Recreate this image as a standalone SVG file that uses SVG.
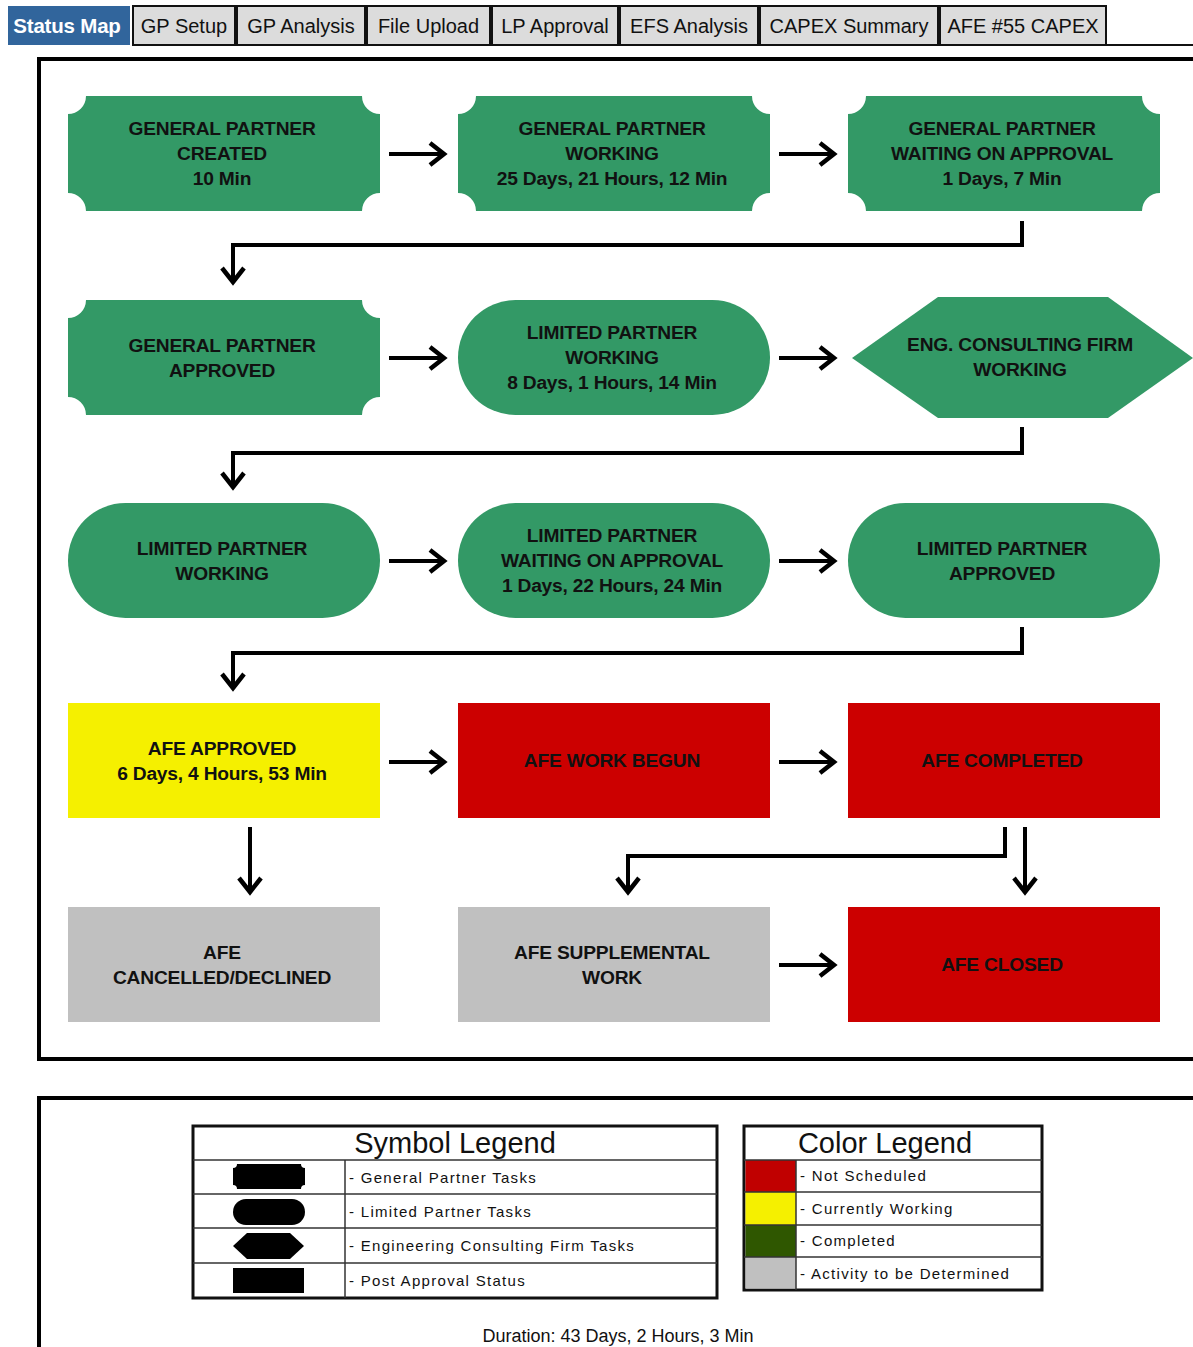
<svg xmlns="http://www.w3.org/2000/svg" width="1193" height="1347" viewBox="0 0 1193 1347">
<style>
text{font-family:"Liberation Sans",Arial,sans-serif}
.tab{fill:#DCDCDC;stroke:#111;stroke-width:2}
.tabt{font-size:20px;fill:#111;text-anchor:middle}
.g{fill:#339966}
.y{fill:#F5F000}
.r{fill:#CC0000}
.gr{fill:#C0C0C0}
.n{font-size:19.2px;font-weight:bold;fill:#111;text-anchor:middle;letter-spacing:-0.2px}
.c{fill:none;stroke:#000;stroke-width:4;marker-end:url(#ah)}
.frame{fill:none;stroke:#000;stroke-width:4}
.lt{fill:#fff;stroke:#111;stroke-width:3}
.ll{stroke:#333;stroke-width:1.5}
.lh{font-size:29px;fill:#111;text-anchor:middle}
.lx{font-size:15px;fill:#111;letter-spacing:1.3px}
</style>
<defs>
<marker id="ah" markerUnits="userSpaceOnUse" markerWidth="40" markerHeight="40" viewBox="-20 -20 40 40" refX="0" refY="0" orient="auto">
<path d="M-14,-11 L0,0 L-14,11" fill="none" stroke="#000" stroke-width="4.5"/>
</marker>
</defs>
<rect width="1193" height="1347" fill="#fff"/>
<g id="tabs">
<rect x="8" y="6" width="122" height="39" fill="#31659C"/>
<text x="67" y="33" style="font-size:20.5px;font-weight:bold;fill:#fff;text-anchor:middle;letter-spacing:-0.2px">Status Map</text>
<rect class="tab" x="133" y="6" width="102" height="39"/><text class="tabt" x="184" y="33">GP Setup</text>
<rect class="tab" x="237" y="6" width="128" height="39"/><text class="tabt" x="301" y="33">GP Analysis</text>
<rect class="tab" x="367" y="6" width="123" height="39"/><text class="tabt" x="428.5" y="33">File Upload</text>
<rect class="tab" x="492" y="6" width="126" height="39"/><text class="tabt" x="555" y="33">LP Approval</text>
<rect class="tab" x="620" y="6" width="138" height="39"/><text class="tabt" x="689" y="33">EFS Analysis</text>
<rect class="tab" x="760" y="6" width="178" height="39"/><text class="tabt" x="849" y="33">CAPEX Summary</text>
<rect class="tab" x="940" y="6" width="166" height="39"/><text class="tabt" x="1023" y="33">AFE #55 CAPEX</text>
<line x1="1106" y1="45" x2="1193" y2="45" stroke="#111" stroke-width="2"/>
</g>
<rect class="frame" x="39" y="59" width="1170" height="1000"/>
<rect class="frame" x="39" y="1098" width="1170" height="300"/>
<g id="n1">
<path class="g" d="M86,96 H362 A18,18 0 0 0 380,114 V193 A18,18 0 0 0 362,211 H86 A18,18 0 0 0 68,193 V114 A18,18 0 0 0 86,96 Z"/>
<text class="n" x="222" y="135">GENERAL PARTNER</text><text class="n" x="222" y="160">CREATED</text><text class="n" x="222" y="185">10 Min</text>
</g>
<g id="n2">
<path class="g" d="M476,96 H752 A18,18 0 0 0 770,114 V193 A18,18 0 0 0 752,211 H476 A18,18 0 0 0 458,193 V114 A18,18 0 0 0 476,96 Z"/>
<text class="n" x="612" y="135">GENERAL PARTNER</text><text class="n" x="612" y="160">WORKING</text><text class="n" x="612" y="185">25 Days, 21 Hours, 12 Min</text>
</g>
<g id="n3">
<path class="g" d="M866,96 H1142 A18,18 0 0 0 1160,114 V193 A18,18 0 0 0 1142,211 H866 A18,18 0 0 0 848,193 V114 A18,18 0 0 0 866,96 Z"/>
<text class="n" x="1002" y="135">GENERAL PARTNER</text><text class="n" x="1002" y="160">WAITING ON APPROVAL</text><text class="n" x="1002" y="185">1 Days, 7 Min</text>
</g>
<g id="n4">
<path class="g" d="M86,300 H362 A18,18 0 0 0 380,318 V397 A18,18 0 0 0 362,415 H86 A18,18 0 0 0 68,397 V318 A18,18 0 0 0 86,300 Z"/>
<text class="n" x="222" y="351.5">GENERAL PARTNER</text><text class="n" x="222" y="376.5">APPROVED</text>
</g>
<g id="n5">
<rect class="g" x="458" y="300" width="312" height="115" rx="57.5"/>
<text class="n" x="612" y="339">LIMITED PARTNER</text><text class="n" x="612" y="364">WORKING</text><text class="n" x="612" y="389">8 Days, 1 Hours, 14 Min</text>
</g>
<g id="n6">
<polygon class="g" points="852,358 938,297 1108,297 1193,358 1108,418 938,418"/>
<text class="n" x="1020" y="351">ENG. CONSULTING FIRM</text><text class="n" x="1020" y="376">WORKING</text>
</g>
<g id="n7">
<rect class="g" x="68" y="503" width="312" height="115" rx="57.5"/>
<text class="n" x="222" y="554.5">LIMITED PARTNER</text><text class="n" x="222" y="579.5">WORKING</text>
</g>
<g id="n8">
<rect class="g" x="458" y="503" width="312" height="115" rx="57.5"/>
<text class="n" x="612" y="542">LIMITED PARTNER</text><text class="n" x="612" y="567">WAITING ON APPROVAL</text><text class="n" x="612" y="592">1 Days, 22 Hours, 24 Min</text>
</g>
<g id="n9">
<rect class="g" x="848" y="503" width="312" height="115" rx="57.5"/>
<text class="n" x="1002" y="554.5">LIMITED PARTNER</text><text class="n" x="1002" y="579.5">APPROVED</text>
</g>
<g id="n10">
<rect class="y" x="68" y="703" width="312" height="115"/>
<text class="n" x="222" y="754.5">AFE APPROVED</text><text class="n" x="222" y="779.5">6 Days, 4 Hours, 53 Min</text>
</g>
<g id="n11">
<rect class="r" x="458" y="703" width="312" height="115"/>
<text class="n" x="612" y="767">AFE WORK BEGUN</text>
</g>
<g id="n12">
<rect class="r" x="848" y="703" width="312" height="115"/>
<text class="n" x="1002" y="767">AFE COMPLETED</text>
</g>
<g id="n13">
<rect class="gr" x="68" y="907" width="312" height="115"/>
<text class="n" x="222" y="958.5">AFE</text><text class="n" x="222" y="983.5">CANCELLED/DECLINED</text>
</g>
<g id="n14">
<rect class="gr" x="458" y="907" width="312" height="115"/>
<text class="n" x="612" y="958.5">AFE SUPPLEMENTAL</text><text class="n" x="612" y="983.5">WORK</text>
</g>
<g id="n15">
<rect class="r" x="848" y="907" width="312" height="115"/>
<text class="n" x="1002" y="971">AFE CLOSED</text>
</g>
<g id="connectors">
<line class="c" x1="389" y1="154" x2="444" y2="154"/>
<line class="c" x1="779" y1="154" x2="834" y2="154"/>
<path class="c" d="M1022,221 V245 H233 V282"/>
<line class="c" x1="389" y1="358" x2="444" y2="358"/>
<line class="c" x1="779" y1="358" x2="834" y2="358"/>
<path class="c" d="M1022,427 V453 H233 V487"/>
<line class="c" x1="389" y1="561" x2="444" y2="561"/>
<line class="c" x1="779" y1="561" x2="834" y2="561"/>
<path class="c" d="M1022,627 V653 H233 V688"/>
<line class="c" x1="389" y1="762" x2="444" y2="762"/>
<line class="c" x1="779" y1="762" x2="834" y2="762"/>
<line class="c" x1="250" y1="827" x2="250" y2="892"/>
<path class="c" d="M1005,827 V856 H628 V892"/>
<line class="c" x1="1025" y1="827" x2="1025" y2="892"/>
<line class="c" x1="779" y1="965" x2="834" y2="965"/>
</g>
<g id="symbol-legend">
<rect class="lt" x="193" y="1126" width="524" height="172"/>
<line class="ll" x1="193" y1="1160" x2="717" y2="1160"/>
<line class="ll" x1="193" y1="1194" x2="717" y2="1194"/>
<line class="ll" x1="193" y1="1228" x2="717" y2="1228"/>
<line class="ll" x1="193" y1="1263" x2="717" y2="1263"/>
<line class="ll" x1="345" y1="1160" x2="345" y2="1298"/>
<text class="lh" x="455" y="1153">Symbol Legend</text>
<path d="M237,1164 H301 A4,4 0 0 0 305,1168 V1185 A4,4 0 0 0 301,1189 H237 A4,4 0 0 0 233,1185 V1168 A4,4 0 0 0 237,1164 Z" fill="#000"/>
<rect x="233" y="1199" width="72" height="26" rx="13" fill="#000"/>
<polygon points="233,1246 247,1233 290,1233 304,1246 290,1259 247,1259" fill="#000"/>
<rect x="233" y="1268" width="71" height="25" fill="#000"/>
<text class="lx" x="349" y="1183">- General Partner Tasks</text>
<text class="lx" x="349" y="1217">- Limited Partner Tasks</text>
<text class="lx" x="349" y="1251">- Engineering Consulting Firm Tasks</text>
<text class="lx" x="349" y="1286">- Post Approval Status</text>
</g>
<g id="color-legend">
<rect class="lt" x="744" y="1126" width="298" height="164"/>
<rect x="745.5" y="1160" width="50.5" height="32" fill="#C00000"/>
<rect x="745.5" y="1192" width="50.5" height="33" fill="#F5F000"/>
<rect x="745.5" y="1225" width="50.5" height="32" fill="#2F5700"/>
<rect x="745.5" y="1257" width="50.5" height="31.5" fill="#C0C0C0"/>
<line class="ll" x1="744" y1="1160" x2="1042" y2="1160"/>
<line class="ll" x1="744" y1="1192" x2="1042" y2="1192"/>
<line class="ll" x1="744" y1="1225" x2="1042" y2="1225"/>
<line class="ll" x1="744" y1="1257" x2="1042" y2="1257"/>
<line class="ll" x1="796" y1="1160" x2="796" y2="1290"/>
<text class="lh" x="885" y="1153">Color Legend</text>
<text class="lx" x="800" y="1181">- Not Scheduled</text>
<text class="lx" x="800" y="1214">- Currently Working</text>
<text class="lx" x="800" y="1246">- Completed</text>
<text class="lx" x="800" y="1279">- Activity to be Determined</text>
</g>
<text x="618" y="1342" style="font-size:18px;fill:#111;text-anchor:middle">Duration: 43 Days, 2 Hours, 3 Min</text>
</svg>
